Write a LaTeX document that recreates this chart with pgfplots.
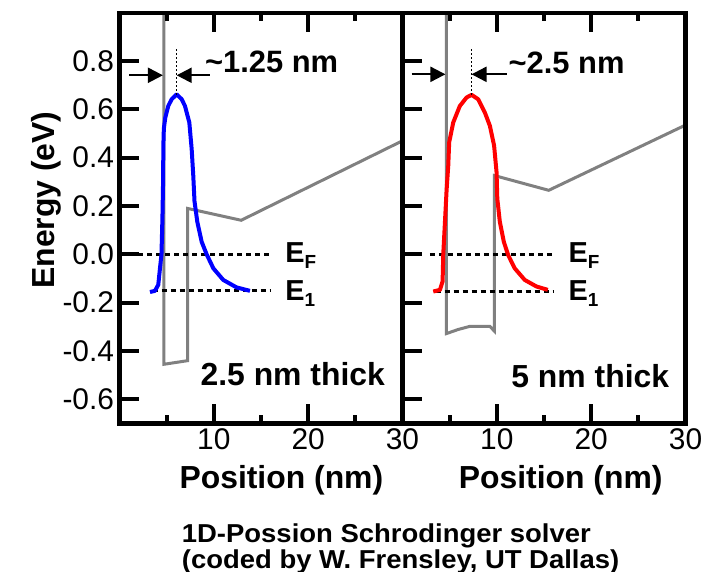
\documentclass[border=0pt]{standalone}
\usepackage{fontspec}
\setmainfont{Liberation Sans}
\newfontfamily\creditfont{Liberation Sans}[FakeStretch=1.06]
\usepackage{pgfplots}
\pgfplotsset{compat=1.18}
\usetikzlibrary{arrows.meta}

\definecolor{band}{RGB}{128,128,128}
\definecolor{wfblue}{RGB}{0,0,255}
\definecolor{wfred}{RGB}{255,0,0}

\pgfplotsset{
  panel/.style={
    scale only axis, width=283bp, height=410.8bp, anchor=south west,
    xmin=0, xmax=30, ymin=-0.7, ymax=1.0,
    xtick={10,20,30}, xticklabels={10,20,30}, minor xtick={5,15,25},
    ytick={-0.6,-0.4,-0.2,0,0.2,0.4,0.6,0.8},
    xtick pos=both, ytick pos=left, tick align=inside,
    major tick length=19bp, minor tick length=8bp,
    line width=4.3bp,
    axis line style={line width=4.3bp},
    every tick/.style={black, line width=3.8bp},
    tick style={black, line width=3.8bp},
    minor tick style={black, line width=3.8bp},
    tick label style={font=\fontsize{30}{30}\selectfont},
    label style={font=\bfseries\fontsize{32}{32}\selectfont},
    xlabel={Position (nm)},
    axis on top,
  },
  bandline/.style={band, line width=3bp},
  level/.style={black, line width=3.2bp, dash pattern=on 5bp off 4bp},
  wave/.style={line width=4bp, line join=round},
}
\tikzset{
  span/.style={black, line width=2.2bp, -{Triangle[length=15bp,width=15bp]}},
  peakmark/.style={black, line width=1.4bp, dash pattern=on 2bp off 2bp},
}

\newcommand{\levelname}[1]{%
  \bfseries\fontsize{29}{29}\selectfont E\raisebox{-6bp}{\fontsize{19}{19}\selectfont #1}}

\begin{document}
\begin{tikzpicture}
\useasboundingbox (0bp,0bp) rectangle (704bp,572bp);

% ---- 2.5 nm thick well ----
\begin{axis}[panel, at={(119.5bp,148.5bp)},
  yticklabels={-0.6,-0.4,-0.2,0.0,0.2,0.4,0.6,0.8},
  ylabel={Energy (eV)},
  ylabel style={at={(axis description cs:-0.228,0.544)}, anchor=base},
  xlabel style={at={(axis description cs:0.572,-0.1594)}, anchor=base},
]
  % conduction band edge
  \addplot[bandline] coordinates {
    (4.7,1.2) (4.7,-0.455) (7.22,-0.44) (7.22,0.19) (12.9,0.141) (30,0.47)};
  % Fermi level and first subband
  \addplot[level] coordinates {(2.0,0) (16.1,0)};
  \addplot[level] coordinates {(3.5,-0.151) (16.1,-0.151)};
  % wavefunction of the first subband
  \addplot[wave, wfblue] coordinates {
    (3.23,-0.156) (3.76,-0.151) (4.11,-0.126) (4.29,-0.058) (4.45,0.0)
    (4.55,0.15) (4.62,0.3) (4.65,0.45) (4.7,0.52) (4.85,0.565)
    (5.17,0.614) (5.53,0.642) (6.06,0.662) (6.59,0.642) (6.94,0.614)
    (7.4,0.546) (7.65,0.436) (7.82,0.326) (7.95,0.22) (8.25,0.134)
    (8.71,0.052) (9.24,0.0) (9.95,-0.058) (11.0,-0.106) (12.42,-0.137)
    (13.83,-0.151)};
  % distance from the interface to the peak
  \draw[peakmark] (axis cs:6.06,0.848) -- (axis cs:6.06,0.66);
  \draw[span] (axis cs:1.04,0.741) -- (axis cs:4.6,0.741);
  \draw[span] (axis cs:9.59,0.741) -- (axis cs:6.06,0.741);
  \node[anchor=base west, inner sep=0, font=\bfseries\fontsize{31}{31}\selectfont]
    at (axis cs:8.85,0.752) {\textasciitilde 1.25 nm};
  \node[anchor=base west, inner sep=0] at (axis cs:17.36,-0.033) {\levelname{F}};
  \node[anchor=base west, inner sep=0] at (axis cs:17.36,-0.193) {\levelname{1}};
  \node[anchor=base east, inner sep=0, font=\bfseries\fontsize{32}{32}\selectfont]
    at (axis cs:28.36,-0.544) {2.5 nm thick};
\end{axis}

% ---- 5 nm thick well ----
\begin{axis}[panel, at={(402.5bp,148.5bp)},
  yticklabels={},
  xlabel style={at={(axis description cs:0.559,-0.1594)}, anchor=base},
]
  \addplot[bandline] coordinates {
    (4.65,1.2) (4.65,-0.328) (5.9,-0.311) (7.14,-0.298) (9.26,-0.298)
    (9.75,-0.318) (9.75,0.326) (15.5,0.265) (30,0.535)};
  \addplot[level] coordinates {(2.9,0) (15.96,0)};
  \addplot[level] coordinates {(3.5,-0.154) (15.96,-0.154)};
  \addplot[wave, wfred] coordinates {
    (3.26,-0.154) (3.97,-0.147) (4.25,-0.112) (4.32,0.0) (4.5,0.134)
    (4.68,0.27) (4.85,0.367) (4.95,0.464) (5.38,0.546) (6.08,0.614)
    (6.79,0.649) (7.32,0.66) (8.02,0.642) (8.73,0.587) (9.26,0.532)
    (9.71,0.45) (9.97,0.34) (10.05,0.23) (10.32,0.134) (10.74,0.052)
    (11.2,-0.003) (11.9,-0.058) (12.96,-0.106) (14.2,-0.133) (15.4,-0.147)};
  \draw[peakmark] (axis cs:7.32,0.848) -- (axis cs:7.32,0.66);
  \draw[span] (axis cs:0.97,0.745) -- (axis cs:4.55,0.745);
  \draw[span] (axis cs:11.03,0.745) -- (axis cs:7.32,0.745);
  \node[anchor=base west, inner sep=0, font=\bfseries\fontsize{31}{31}\selectfont]
    at (axis cs:11.03,0.749) {\textasciitilde 2.5 nm};
  \node[anchor=base west, inner sep=0] at (axis cs:17.38,-0.033) {\levelname{F}};
  \node[anchor=base west, inner sep=0] at (axis cs:17.38,-0.193) {\levelname{1}};
  \node[anchor=base east, inner sep=0, font=\bfseries\fontsize{32}{32}\selectfont]
    at (axis cs:28.49,-0.551) {5 nm thick};
\end{axis}

% credit line
\node[anchor=base west, inner sep=0, font=\creditfont\bfseries\fontsize{26}{26}\selectfont]
  at (181.7bp,30bp) {1D-Possion Schrodinger solver};
\node[anchor=base west, inner sep=0, font=\creditfont\bfseries\fontsize{26}{26}\selectfont]
  at (181.7bp,4bp) {(coded by W. Frensley, UT Dallas)};
\end{tikzpicture}
\end{document}
